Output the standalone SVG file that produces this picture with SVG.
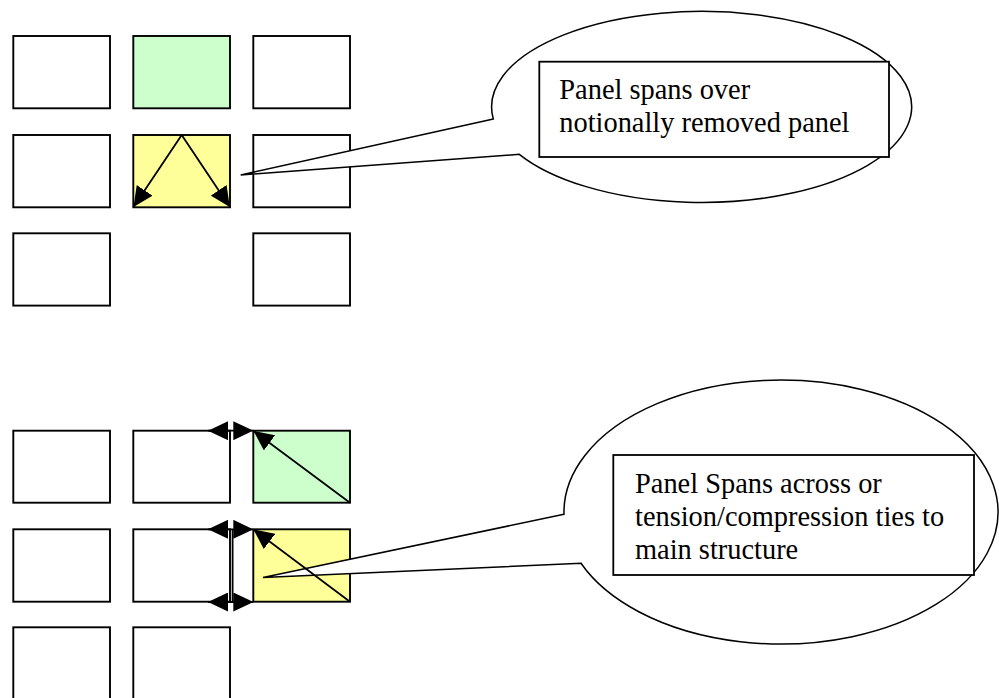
<svg xmlns="http://www.w3.org/2000/svg" width="999" height="698" viewBox="0 0 999 698">
<defs>
<style>
.box{fill:#fff;stroke:#000;stroke-width:1.9}
.green{fill:#ccffcc}
.yellow{fill:#ffff99}
.call{fill:#fff;stroke:#000;stroke-width:1.5}
.tbox{fill:#fff;stroke:#000;stroke-width:1.8}
.txt{font-family:"Liberation Serif","Times New Roman",serif;font-size:28.4px;fill:#000}
.arr{stroke:#000;stroke-width:1.8;fill:none}
</style>
<marker id="ah" markerUnits="userSpaceOnUse" markerWidth="20" markerHeight="19" refX="20" refY="9.5" orient="auto-start-reverse" viewBox="0 0 20 19">
<path d="M0,0 L20,9.5 L0,19 Z" fill="#000"/>
</marker>
</defs>
<rect width="999" height="698" fill="#fff"/>

<g id="top-grid">
<g id="t11"><rect class="box" x="13.3" y="36" width="96.7" height="72.3"/></g>
<g id="t12"><rect class="box green" x="133.3" y="36" width="96.7" height="72.3"/></g>
<g id="t13"><rect class="box" x="253.3" y="36" width="96.7" height="72.3"/></g>
<g id="t21"><rect class="box" x="13.3" y="135" width="96.7" height="72.3"/></g>
<g id="t22"><rect class="box yellow" x="133.3" y="135" width="96.7" height="72.3"/></g>
<g id="t23"><rect class="box" x="253.3" y="135" width="96.7" height="72.3"/></g>
<g id="t31"><rect class="box" x="13.3" y="233.3" width="96.7" height="72.3"/></g>
<g id="t33"><rect class="box" x="253.3" y="233.3" width="96.7" height="72.3"/></g>
</g>

<g id="bottom-grid">
<g id="b11"><rect class="box" x="13.3" y="430.7" width="96.7" height="72"/></g>
<g id="b12"><rect class="box" x="133.3" y="430.7" width="96.7" height="72"/></g>
<g id="b13"><rect class="box green" x="253.3" y="430.7" width="96.7" height="72"/></g>
<g id="b21"><rect class="box" x="13.3" y="529.3" width="96.7" height="72.4"/></g>
<g id="b22"><rect class="box" x="133.3" y="529.3" width="96.7" height="72.4"/></g>
<g id="b23"><rect class="box yellow" x="253.3" y="529.3" width="96.7" height="72.4"/></g>
<g id="b31"><rect class="box" x="13.3" y="627.3" width="96.7" height="80"/></g>
<g id="b32"><rect class="box" x="133.3" y="627.3" width="96.7" height="80"/></g>
</g>

<g id="callout-top">
<path class="call" d="M493.3,119 L240.7,175 L519.3,154.3 A210,95.5 0 1 0 493.3,119 Z"/>
<rect class="tbox" x="539.3" y="61.7" width="349.7" height="95.3"/>
<text class="txt" x="559.3" y="99">Panel spans over</text>
<text class="txt" x="559.3" y="132.3">notionally removed panel</text>
</g>

<g id="callout-bottom">
<path class="call" d="M564,514.3 L263,577.5 L581,563.3 A217,132 0 1 0 564,514.3 Z"/>
<rect class="tbox" x="613.3" y="455" width="360.7" height="120"/>
<text class="txt" x="635" y="492.7">Panel Spans across or</text>
<text class="txt" x="635" y="526">tension/compression ties to</text>
<text class="txt" x="635" y="559.3">main structure</text>
</g>

<g id="connectors">
<line class="arr" x1="181.7" y1="135" x2="133.5" y2="206.9" marker-end="url(#ah)"/>
<line class="arr" x1="181.7" y1="135" x2="229.8" y2="206.9" marker-end="url(#ah)"/>
<line class="arr" x1="350" y1="502.7" x2="253.5" y2="430.9" marker-end="url(#ah)"/>
<line class="arr" x1="350" y1="601.7" x2="253.5" y2="529.5" marker-end="url(#ah)"/>
<line class="arr" x1="208" y1="430.7" x2="253.3" y2="430.7" marker-start="url(#ah)" marker-end="url(#ah)"/>
<line class="arr" x1="208" y1="529.3" x2="253.3" y2="529.3" marker-start="url(#ah)" marker-end="url(#ah)"/>
<line class="arr" x1="208" y1="602" x2="253.3" y2="602" marker-start="url(#ah)" marker-end="url(#ah)"/>
<line class="arr" x1="232.6" y1="529.3" x2="232.6" y2="602"/>
</g>
</svg>
